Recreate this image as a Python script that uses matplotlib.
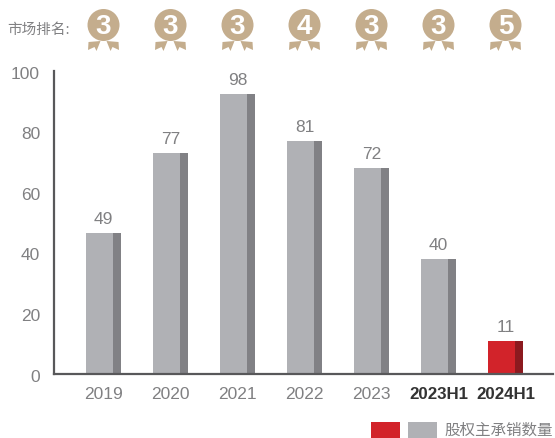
import matplotlib

matplotlib.use("Agg")
import matplotlib.pyplot as plt
from matplotlib.patches import Circle, Polygon, Rectangle
from matplotlib.transforms import ScaledTranslation

years = ["2019", "2020", "2021", "2022", "2023", "2023H1", "2024H1"]
# printed labels differ slightly from the drawn height on the axis
labels = [49, 77, 98, 81, 72, 40, 11]
heights = [46.5, 73, 92.5, 76.9, 68, 38, 11]
ranks = [3, 3, 3, 4, 3, 3, 5]
yticks = [0, 20, 40, 60, 80, 100]

W, H = 555, 439
GREY = "#808082"
plt.rcParams["font.family"] = ["Liberation Sans", "Noto Sans CJK SC", "DejaVu Sans"]

fig = plt.figure(figsize=(W / 100, H / 100), dpi=100)

# overlay in pixel coordinates for the medals and legend
over = fig.add_axes([0, 0, 1, 1])
over.set_xlim(0, W)
over.set_ylim(H, 0)
over.axis("off")

ax = fig.add_axes([54 / W, (H - 375) / H, 499 / W, 303 / H])
ax.patch.set_alpha(0)
ax.set_xlim(-0.739, 6.709)
ax.set_ylim(0, 100)

front_w = 27 / 67
side_w = 8 / 67
for i, (h, lab) in enumerate(zip(heights, labels)):
    last = i == len(years) - 1
    front = "#d2232a" if last else "#b0b1b5"
    side = "#8c1a1f" if last else "#818185"
    left = i - (front_w + side_w) / 2
    ax.bar(left, h, front_w, align="edge", color=front)
    ax.bar(left + front_w, h, side_w, align="edge", color=side)
    ax.text(i, h + 2.2, str(lab), ha="center", va="bottom", fontsize=12.5, color=GREY)

for s in ("top", "right"):
    ax.spines[s].set_visible(False)
for s in ("left", "bottom"):
    ax.spines[s].set_color("#58585a")
    ax.spines[s].set_linewidth(1.6)

ax.set_yticks(yticks)
ax.set_xticks(range(len(years)))
ax.set_xticklabels(years)
ax.tick_params(length=0)
ax.tick_params(axis="y", labelsize=12.5, labelcolor=GREY, pad=10)
ax.tick_params(axis="x", labelsize=12.5, labelcolor=GREY, pad=9)
# nudge the y labels down a touch
shift = ScaledTranslation(0, -0.5 / 72, fig.dpi_scale_trans)
for t in ax.get_yticklabels():
    t.set_transform(t.get_transform() + shift)
for t in ax.get_xticklabels()[-2:]:
    t.set_fontweight("bold")
    t.set_color("#333333")
    t.set_fontsize(12.2)

# medals
GOLD = "#c4ad8d"
for i, r in enumerate(ranks):
    cx = ax.transData.transform((i, 0))[0] * 100 / fig.dpi
    cy = 26
    for sx in (-1, 1):
        pts = [(sx * 3, 42), (sx * 15, 43), (sx * 15.5, 51), (sx * 9, 48), (sx * 7, 52)]
        over.add_patch(Polygon([(cx + px, py) for px, py in pts], color=GOLD, lw=0))
    over.add_patch(Circle((cx, cy), 16, color=GOLD, lw=0))
    over.text(cx, cy + 0.5, str(r), color="white", fontsize=20, fontweight="bold",
              ha="center", va="center", family="Liberation Sans")

over.text(7, 30, "市场排名:", fontsize=10.5, color=GREY, va="center", ha="left",
          family=["Noto Sans CJK SC", "DejaVu Sans"])

# legend
over.add_patch(Rectangle((371, 423), 29, 16, color="#d2232a", lw=0))
over.add_patch(Rectangle((408, 423), 29, 16, color="#b0b1b5", lw=0))
over.text(444, 430, "股权主承销数量", fontsize=11.2, color=GREY, va="center", ha="left",
          family=["Noto Sans CJK SC", "DejaVu Sans"])

fig.savefig("out.png", dpi=100)
